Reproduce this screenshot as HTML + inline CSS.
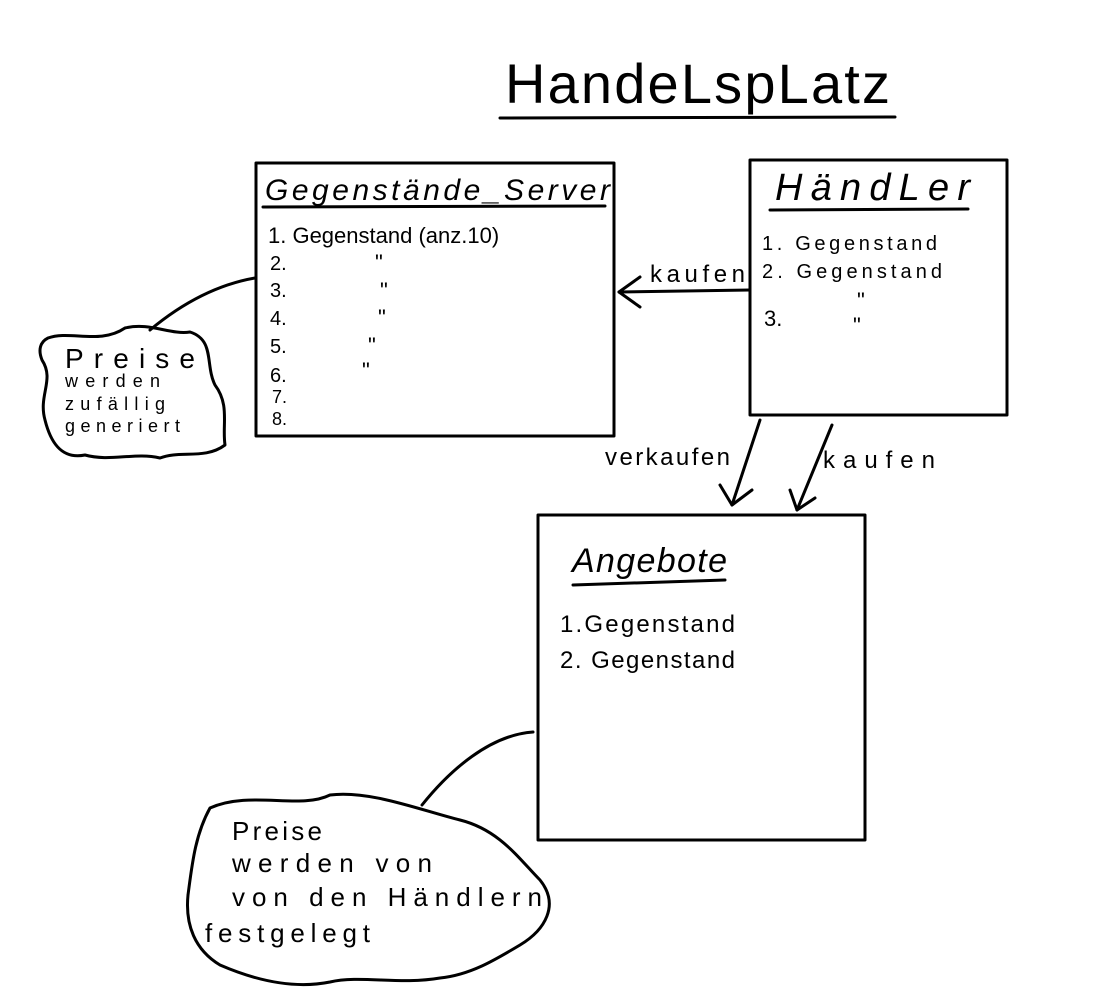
<!DOCTYPE html>
<html><head><meta charset="utf-8"><style>
html,body{margin:0;padding:0;background:#fff;}
svg{display:block;}
text{font-family:"Liberation Sans",sans-serif;fill:#000;}
</style></head><body>
<svg width="1115" height="1000" viewBox="0 0 1115 1000" fill="none" stroke="#000" stroke-width="3" stroke-linecap="round" stroke-linejoin="round">
  <g>
    <text x="505" y="103" font-size="56" stroke="none" textLength="385">HandeLspLatz</text>
    <path d="M500 118 L895 117"/>
  </g>

  <g>
    <rect x="256" y="163" width="358" height="273"/>
    <text x="265" y="200" font-size="30" stroke="none" font-style="italic" textLength="345">Gegenstände_Server</text>
    <path d="M263 207 L605 206"/>
    <text x="268" y="243" font-size="22" stroke="none">1. Gegenstand  (anz.10)</text>
    <text x="270" y="270" font-size="20" stroke="none">2.</text>
    <text x="270" y="297" font-size="20" stroke="none">3.</text>
    <text x="270" y="325" font-size="20" stroke="none">4.</text>
    <text x="270" y="353" font-size="20" stroke="none">5.</text>
    <text x="270" y="382" font-size="20" stroke="none">6.</text>
    <text x="272" y="403" font-size="18" stroke="none">7.</text>
    <text x="272" y="425" font-size="18" stroke="none">8.</text>
    <text x="375" y="270" font-size="22" stroke="none">"</text>
    <text x="380" y="298" font-size="22" stroke="none">"</text>
    <text x="378" y="325" font-size="22" stroke="none">"</text>
    <text x="368" y="353" font-size="22" stroke="none">"</text>
    <text x="362" y="378" font-size="22" stroke="none">"</text>
  </g>

  <g>
    <rect x="750" y="160" width="257" height="255"/>
    <text x="775" y="200" font-size="38" stroke="none" font-style="italic" textLength="195">HändLer</text>
    <path d="M770 210 L968 209"/>
    <text x="762" y="250" font-size="20" stroke="none" textLength="175">1. Gegenstand</text>
    <text x="762" y="278" font-size="20" stroke="none" textLength="180">2. Gegenstand</text>
    <text x="857" y="308" font-size="22" stroke="none">"</text>
    <text x="764" y="326" font-size="22" stroke="none">3.</text>
    <text x="853" y="333" font-size="22" stroke="none">"</text>
  </g>

  <g>
    <rect x="538" y="515" width="327" height="325"/>
    <text x="572" y="572" font-size="34" stroke="none" font-style="italic" textLength="155">Angebote</text>
    <path d="M573 585 L725 580"/>
    <text x="560" y="632" font-size="24" stroke="none" textLength="175">1.Gegenstand</text>
    <text x="560" y="668" font-size="24" stroke="none" textLength="175">2. Gegenstand</text>
  </g>

  <g>
    <path d="M750 290 L619 292"/>
    <path d="M640 277 L619 292 L640 307"/>
    <text x="650" y="282" font-size="24" stroke="none" textLength="95">kaufen</text>
  </g>

  <g>
    <path d="M760 420 L732 505"/>
    <path d="M720 485 L732 505 L752 490"/>
    <text x="605" y="465" font-size="24" stroke="none" textLength="125">verkaufen</text>
  </g>

  <g>
    <path d="M832 425 L797 510"/>
    <path d="M790 490 L797 510 L815 498"/>
    <text x="823" y="468" font-size="24" stroke="none" textLength="112">kaufen</text>
  </g>

  <g>
    <path d="M255 278 C215 285 180 305 150 330"/>
    <path d="M48 338 C70 330 100 345 125 328 C150 322 170 335 190 332 C215 340 205 365 215 385 C230 405 222 425 225 445 C205 460 180 450 160 458 C135 452 110 462 85 455 C60 460 50 440 45 420 C38 395 55 380 42 360 C38 350 40 342 48 338 Z"/>
    <text x="65" y="368" font-size="28" stroke="none" textLength="130">Preise</text>
    <text x="65" y="387" font-size="18" stroke="none" textLength="95">werden</text>
    <text x="65" y="410" font-size="18" stroke="none" textLength="100">zufällig</text>
    <text x="65" y="432" font-size="18" stroke="none" textLength="115">generiert</text>
  </g>

  <g>
    <path d="M533 732 C490 735 450 770 422 805"/>
    <path d="M210 808 C250 790 300 810 330 795 C370 790 420 810 460 820 C500 830 520 860 540 880 C560 905 545 930 520 945 C495 960 470 975 440 978 C400 985 360 975 330 982 C290 990 250 978 220 965 C195 950 185 925 188 895 C192 865 195 835 210 808 Z"/>
    <text x="232" y="840" font-size="26" stroke="none" textLength="90">Preise</text>
    <text x="232" y="872" font-size="26" stroke="none" textLength="200">werden von</text>
    <text x="232" y="906" font-size="26" stroke="none" textLength="310">von den Händlern</text>
    <text x="205" y="942" font-size="26" stroke="none" textLength="165">festgelegt</text>
  </g>
</svg>
</body></html>
